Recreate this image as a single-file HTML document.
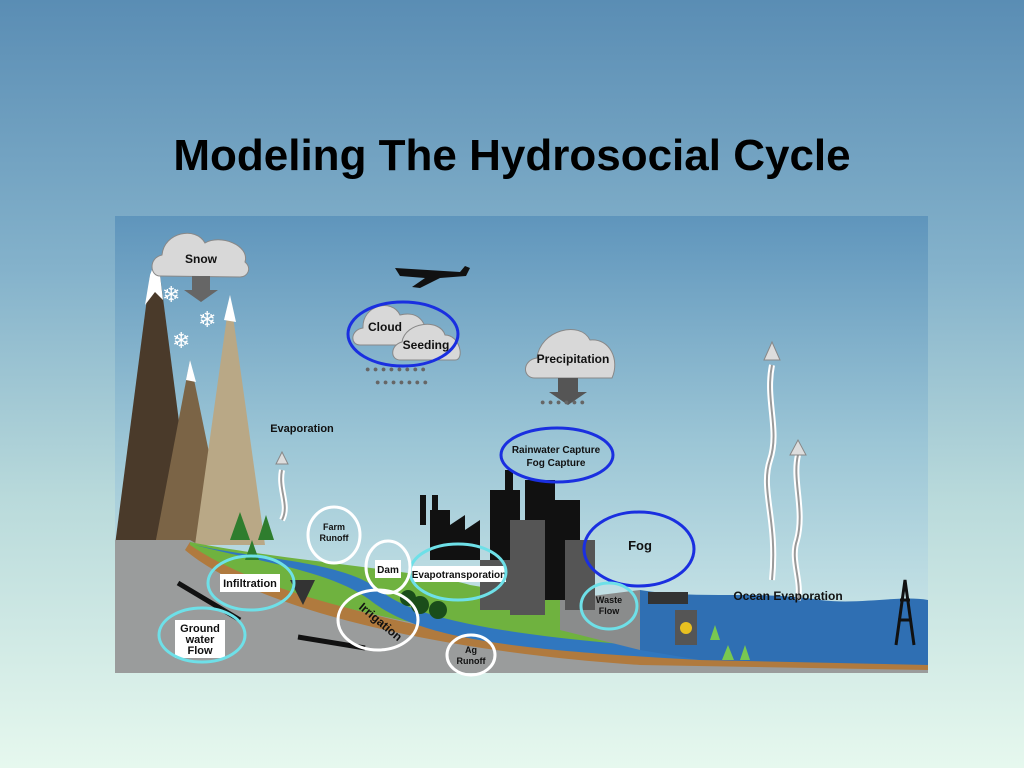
<!DOCTYPE html>
<html><head><meta charset="utf-8"><style>
html,body{margin:0;padding:0}
body{width:1024px;height:768px;overflow:hidden;background:linear-gradient(180deg,#5a8db4 0%,#84b2cb 35%,#b9dadb 65%,#e6f8ee 100%);font-family:"Liberation Sans",sans-serif}
h1{position:absolute;left:0;width:1024px;top:130px;margin:0;text-align:center;font-size:44px;line-height:52px;font-weight:bold;color:#000}
svg{position:absolute;left:0;top:0}
</style></head><body>
<h1>Modeling The Hydrosocial Cycle</h1>
<svg width="1024" height="768" viewBox="0 0 1024 768" font-family="Liberation Sans, sans-serif" font-weight="bold">
<defs>
<linearGradient id="sky" x1="0" y1="0" x2="0" y2="1"><stop offset="0" stop-color="#5f95bc"/><stop offset="0.5" stop-color="#9cc6d6"/><stop offset="1" stop-color="#d4eceb"/></linearGradient>
<clipPath id="c"><rect x="115" y="216" width="813" height="457"/></clipPath>
</defs>
<g clip-path="url(#c)">
<rect x="115" y="216" width="813" height="457" fill="url(#sky)"/>
<polygon points="115,545 150,275 160,275 195,545" fill="#4a3a2a"/>
<polygon points="155,545 190,360 228,545" fill="#7b6446"/>
<polygon points="195,545 230,295 265,545" fill="#b9a886"/>
<polygon points="150,275 160,275 155,262" fill="#fff"/>
<polygon points="145,305 150,275 160,275 163,300 155,292" fill="#fff"/>
<polygon points="186,380 190,360 196,382" fill="#fff"/>
<polygon points="224,320 230,295 236,322" fill="#fff"/>
<path d="M115,540 L190,540 C260,580 400,620 600,640 L700,648 L928,655 L928,673 L115,673 Z" fill="#9a9c9c"/>
<path d="M190,542 C260,590 420,640 640,655 L928,662 L928,670 L640,665 C420,650 250,605 185,550 Z" fill="#b07a3e"/>
<path d="M190,542 C280,560 420,570 470,585 L560,600 L640,620 L640,650 C450,640 270,600 190,545 Z" fill="#6fb23f"/>
<path d="M195,545 C260,560 340,560 380,590 C420,625 550,640 700,650 L700,660 C520,650 420,640 370,600 C330,570 250,560 195,545Z" fill="#3077bf"/>
<path d="M640,590 C700,600 760,590 820,600 C860,605 900,595 928,600 L928,665 L700,660 L640,650 Z" fill="#2f6fb3"/>
<path d="M560,600 L640,590 L640,650 L560,630Z" fill="#8a8c8c"/>
<g fill="#111">
<rect x="490" y="490" width="30" height="110"/><rect x="505" y="470" width="8" height="30"/>
<rect x="525" y="480" width="30" height="120"/><rect x="555" y="500" width="25" height="100"/>
<polygon points="430,510 430,560 480,560 480,520 465,530 465,515 450,525 450,510"/>
<rect x="420" y="495" width="6" height="30"/><rect x="432" y="495" width="6" height="30"/>
</g>
<g fill="#555"><rect x="510" y="520" width="35" height="95"/><rect x="565" y="540" width="30" height="70"/><rect x="480" y="560" width="35" height="50"/></g>
<g fill="#2e7d2e"><polygon points="230,540 240,512 250,540"/><polygon points="258,540 266,515 274,540"/><polygon points="245,560 252,540 259,560"/></g>
<g fill="#1a4d1a"><circle cx="420" cy="605" r="9"/><circle cx="438" cy="610" r="9"/><circle cx="408" cy="598" r="8"/></g>
<path d="M395,268 L460,272 L465,266 L470,268 L466,276 L440,278 L420,288 L412,287 L425,278 L400,276 Z" fill="#111"/>
<g fill="#d8d8d8" stroke="#888" stroke-width="1">
<path d="M160,276 C150,276 148,258 162,255 C164,232 196,226 205,243 C220,234 250,245 245,262 C252,268 248,277 240,277 Z"/>
<path d="M360,345 C350,345 350,330 363,328 C362,305 392,298 400,315 C420,310 430,325 425,345 Z"/>
<path d="M400,360 C390,360 390,345 402,342 C405,322 440,318 445,335 C460,335 465,360 455,360 Z"/>
<path d="M535,378 C522,378 522,360 537,358 C540,330 580,320 590,340 C610,338 620,360 612,378 Z"/>
</g>
<polygon points="192,276 210,276 210,290 218,290 201,302 184,290 192,290" fill="#666"/>
<polygon points="558,378 578,378 578,392 587,392 568,405 549,392 558,392" fill="#555"/>
<g fill="#666" font-size="9"><text x="365" y="372">● ● ● ● ● ● ● ●</text><text x="375" y="385">● ● ● ● ● ● ●</text><text x="540" y="405">● ● ● ● ● ●</text></g>
<g fill="#fff" font-size="22" font-weight="normal"><text x="162" y="302">❄</text><text x="198" y="327">❄</text><text x="172" y="348">❄</text></g>
<g fill="none" stroke="#fff" stroke-width="6" stroke-linejoin="round"><path d="M772,365 C765,400 780,430 770,460 C760,490 778,520 772,580"/><path d="M798,455 C792,480 805,510 797,540 C790,560 802,580 798,600"/><path d="M282,470 C278,490 290,505 282,520"/></g>
<g fill="none" stroke="#999" stroke-width="2"><path d="M772,365 C765,400 780,430 770,460 C760,490 778,520 772,580"/><path d="M798,455 C792,480 805,510 797,540 C790,560 802,580 798,600"/><path d="M282,470 C278,490 290,505 282,520"/></g>
<g fill="#ddd" stroke="#888"><polygon points="764,360 772,342 780,360"/><polygon points="790,455 798,440 806,455"/><polygon points="276,464 282,452 288,464"/></g>
<g stroke="#111" stroke-width="5"><line x1="178" y1="583" x2="240" y2="620"/><line x1="298" y1="637" x2="365" y2="648"/></g>
<polygon points="290,580 315,580 303,605" fill="#333"/>
<g stroke="#111" stroke-width="3" fill="none"><path d="M896,645 L905,580 L914,645 M898,620 L912,620 M900,600 L910,600"/></g>
<rect x="675" y="610" width="22" height="35" fill="#555"/><circle cx="686" cy="628" r="6" fill="#e8c020"/>
<rect x="648" y="592" width="40" height="12" fill="#333"/>
<g fill="#78c850"><polygon points="710,640 715,625 720,640"/><polygon points="722,660 728,645 734,660"/><polygon points="740,660 745,645 750,660"/></g>
</g>
<g font-size="12" fill="#111" text-anchor="middle">
<text x="201" y="263">Snow</text>
<text x="385" y="331">Cloud</text>
<text x="426" y="349">Seeding</text>
<text x="573" y="363">Precipitation</text>
<text x="302" y="432" font-size="11">Evaporation</text>
<text x="788" y="600" font-size="12">Ocean Evaporation</text>
<text x="556" y="453" font-size="10">Rainwater Capture</text>
<text x="556" y="466" font-size="10">Fog Capture</text>
<text x="640" y="550" font-size="13">Fog</text>
</g>
<g font-size="11" text-anchor="middle">
<rect x="220" y="574" width="60" height="18" fill="#fff"/><text x="250" y="587" fill="#111">Infiltration</text>
<rect x="175" y="620" width="50" height="38" fill="#fff"/><text x="200" y="632" fill="#111">Ground</text><text x="200" y="643" fill="#111">water</text><text x="200" y="654" fill="#111">Flow</text>
<rect x="375" y="560" width="26" height="18" fill="#fff"/><text x="388" y="573" fill="#111" font-size="10">Dam</text>
<rect x="412" y="566" width="94" height="16" fill="#fff"/><text x="459" y="578" fill="#111" font-size="10">Evapotransporation</text>
<text x="334" y="530" fill="#111" font-size="9">Farm</text><text x="334" y="541" fill="#111" font-size="9">Runoff</text>
<text x="609" y="603" fill="#111" font-size="9">Waste</text><text x="609" y="614" fill="#111" font-size="9">Flow</text>
<text x="471" y="653" fill="#111" font-size="9">Ag</text><text x="471" y="664" fill="#111" font-size="9">Runoff</text>
<text x="378" y="625" fill="#111" font-size="12" transform="rotate(40 378 625)">Irrigation</text>
</g>
<g fill="none" stroke-width="3">
<ellipse cx="403" cy="334" rx="55" ry="32" stroke="#1a2fe0"/>
<ellipse cx="557" cy="455" rx="56" ry="27" stroke="#1a2fe0"/>
<ellipse cx="639" cy="549" rx="55" ry="37" stroke="#1a2fe0"/>
<ellipse cx="251" cy="583" rx="43" ry="27" stroke="#6ee0e8"/>
<ellipse cx="202" cy="635" rx="43" ry="27" stroke="#6ee0e8"/>
<ellipse cx="458" cy="572" rx="48" ry="28" stroke="#6ee0e8"/>
<ellipse cx="609" cy="606" rx="28" ry="23" stroke="#6ee0e8"/>
<ellipse cx="334" cy="535" rx="26" ry="28" stroke="#fff"/>
<ellipse cx="388" cy="567" rx="22" ry="26" stroke="#fff"/>
<ellipse cx="378" cy="620" rx="40" ry="30" stroke="#fff"/>
<ellipse cx="471" cy="655" rx="24" ry="20" stroke="#fff"/>
</g>
</svg>
</body></html>
